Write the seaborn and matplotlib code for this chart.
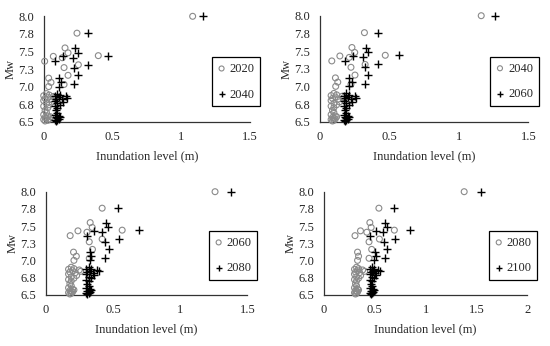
import numpy as np
import pandas as pd
import seaborn as sns
from matplotlib import pyplot as plt

# magnitude of each scenario (shared by all years)
mw = [8.0, 7.76, 7.55, 7.48, 7.43, 7.41, 7.44, 7.36, 7.31, 7.27, 7.16, 7.12, 7.06, 7.00, 7.03,
      6.90, 6.88, 6.87, 6.86, 6.85, 6.84, 6.83, 6.82, 6.80, 6.78, 6.76, 6.74, 6.72, 6.70,
      6.66, 6.63, 6.60, 6.58, 6.57, 6.56, 6.55, 6.54, 6.53, 6.52, 6.51]

# inundation level (m) per year
inund_2020 = [1.083, 0.242, 0.155, 0.177, 0.070, 0.135, 0.397, 0.007, 0.252, 0.148, 0.177, 0.036, 0.053, 0.036, 0.148,
              0.02, 0.04, 0.00, 0.07, 0.03, 0.09, 0.01, 0.05, 0.00, 0.06, 0.02, 0.04, 0.00, 0.03,
              0.01, 0.02, 0.00, 0.03, 0.05, 0.01, 0.02, 0.04, 0.00, 0.03, 0.01]
inund_2040 = [1.161, 0.320, 0.230, 0.250, 0.143, 0.211, 0.470, 0.085, 0.325, 0.223, 0.252, 0.111, 0.128, 0.113, 0.223,
              0.10, 0.12, 0.08, 0.16, 0.11, 0.17, 0.09, 0.13, 0.08, 0.14, 0.10, 0.12, 0.08, 0.10,
              0.09, 0.10, 0.08, 0.11, 0.12, 0.09, 0.10, 0.11, 0.08, 0.10, 0.09]
inund_2060 = [1.260, 0.420, 0.331, 0.346, 0.240, 0.307, 0.569, 0.182, 0.420, 0.324, 0.348, 0.207, 0.228, 0.210, 0.324,
              0.19, 0.21, 0.17, 0.25, 0.20, 0.26, 0.18, 0.22, 0.17, 0.23, 0.19, 0.21, 0.17, 0.19,
              0.18, 0.19, 0.17, 0.20, 0.21, 0.18, 0.19, 0.20, 0.17, 0.19, 0.18]
inund_2080 = [1.379, 0.540, 0.451, 0.464, 0.359, 0.421, 0.692, 0.305, 0.545, 0.443, 0.469, 0.330, 0.340, 0.330, 0.443,
              0.32, 0.34, 0.30, 0.38, 0.33, 0.40, 0.31, 0.35, 0.30, 0.36, 0.32, 0.34, 0.30, 0.32,
              0.31, 0.32, 0.30, 0.33, 0.34, 0.31, 0.32, 0.33, 0.30, 0.32, 0.31]
inund_2100 = [1.541, 0.688, 0.603, 0.623, 0.515, 0.583, 0.846, 0.455, 0.698, 0.593, 0.623, 0.500, 0.508, 0.490, 0.597,
              0.47, 0.49, 0.45, 0.53, 0.48, 0.55, 0.46, 0.50, 0.45, 0.51, 0.47, 0.49, 0.45, 0.47,
              0.46, 0.47, 0.45, 0.48, 0.49, 0.46, 0.47, 0.48, 0.45, 0.47, 0.46]

years = ['2020', '2040', '2060', '2080', '2100']
series = dict(zip(years, [inund_2020, inund_2040, inund_2060, inund_2080, inund_2100]))

y_ticks = [6.5, 6.75, 7.0, 7.25, 7.5, 7.75, 8.0]
y_labels = ['6.5', '6.8', '7.0', '7.3', '7.5', '7.8', '8.0']
x_ticks_short = [0, 0.5, 1, 1.5]
x_ticks_long = [0, 0.5, 1, 1.5, 2]


def panel(fig, rect, year_a, year_b, x_ticks):
    ax = fig.add_axes(rect)
    df = pd.DataFrame({'x': series[year_a], 'y': mw})
    sns.scatterplot(data=df, x='x', y='y', ax=ax, marker='o', s=18,
                    facecolor='none', edgecolor='#8a8a8a', linewidth=0.8,
                    label=year_a, clip_on=False, zorder=3)
    df = pd.DataFrame({'x': series[year_b], 'y': mw})
    sns.scatterplot(data=df, x='x', y='y', ax=ax, marker='+', s=32,
                    color='black', linewidth=1.0, label=year_b,
                    clip_on=False, zorder=4)
    ax.set_xlim(x_ticks[0], x_ticks[-1])
    ax.set_ylim(6.5, 8.0)
    ax.set_xticks(x_ticks)
    ax.set_xticklabels([f'{t:g}' for t in x_ticks])
    ax.set_yticks(y_ticks)
    ax.set_yticklabels(y_labels)
    ax.set_xlabel('Inundation level (m)', fontsize=9, labelpad=5)
    ax.set_ylabel('Mw', fontsize=9, labelpad=1)
    ax.tick_params(axis='both', direction='out', length=3, width=0.8,
                   labelsize=9, color='#333333', pad=4)
    sns.despine(ax=ax)
    for s in ['left', 'bottom']:
        ax.spines[s].set_color('#333333')
        ax.spines[s].set_linewidth(0.9)
    leg = ax.legend(loc='center right', bbox_to_anchor=(1.05, 0.38), fontsize=9,
                    frameon=True, fancybox=False, handletextpad=0.3,
                    handlelength=0.7, borderpad=0.45, labelspacing=1.1,
                    borderaxespad=0.0, framealpha=1, markerscale=0.85)
    leg.get_frame().set_edgecolor('black')
    leg.get_frame().set_linewidth(0.9)
    return ax


sns.set_style('white')
plt.rcParams['font.family'] = ['Liberation Serif', 'DejaVu Serif']

fig = plt.figure(figsize=(5.5, 3.46), dpi=100)
W, H = 550, 346


def rect(left, right, top, bottom):
    return [left / W, 1 - bottom / H, (right - left) / W, (bottom - top) / H]


panel(fig, rect(43.7, 250, 16.3, 121.7), '2020', '2040', x_ticks_short)
panel(fig, rect(320, 528.3, 15.7, 121.7), '2040', '2060', x_ticks_short)
panel(fig, rect(45.7, 247.3, 191.7, 294.7), '2060', '2080', x_ticks_short)
panel(fig, rect(324, 527.3, 191.7, 294.7), '2080', '2100', x_ticks_long)

fig.savefig('out.png', dpi=100)
